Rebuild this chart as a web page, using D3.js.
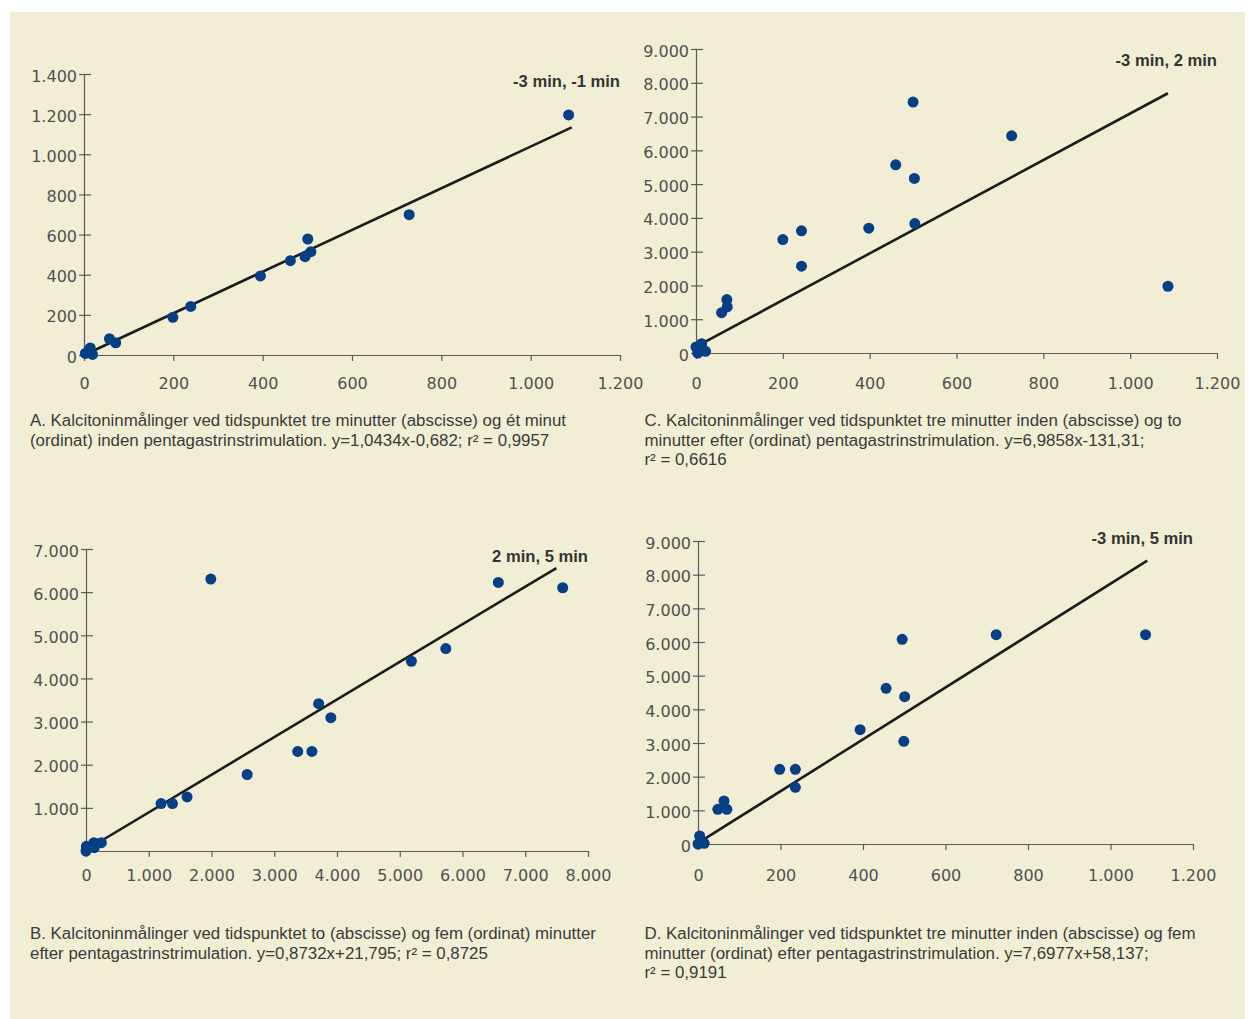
<!DOCTYPE html>
<html>
<head>
<meta charset="utf-8">
<script src="https://cdn.jsdelivr.net/npm/d3@7"></script>
<style>
  html, body { margin: 0; padding: 0; background: #ffffff; }
  svg { display: block; }
</style>
</head>
<body>
<svg id="chart" width="1253" height="1019"></svg>
<script>
// ---------------- DATA ----------------
// Panel A: -3 min (x) vs -1 min (y)
const titleA = "-3 min, -1 min";
const xTicksA = [0, 200, 400, 600, 800, 1000, 1200];
const yTicksA = [0, 200, 400, 600, 800, 1000, 1200, 1400];
const xA = [3, 10, 14, 19, 57, 71, 199, 239, 395, 462, 495, 508, 501, 728, 1085];
const yA = [8, 20, 35, 3, 81, 61, 188, 242, 394, 470, 490, 515, 578, 699, 1196];
const trendXA = [10, 1092];
const trendYA = [10, 1134];
const captionA = [
  "A. Kalcitoninmålinger ved tidspunktet tre minutter (abscisse) og ét minut",
  "(ordinat) inden pentagastrinstrimulation. y=1,0434x-0,682; r² = 0,9957"
];

// Panel C: -3 min (x) vs 2 min (y)
const titleC = "-3 min, 2 min";
const xTicksC = [0, 200, 400, 600, 800, 1000, 1200];
const yTicksC = [0, 1000, 2000, 3000, 4000, 5000, 6000, 7000, 8000, 9000];
const xC = [4, 0, 13, 22, 10, 59, 71, 72, 200, 243, 243, 398, 460, 500, 503, 504, 727, 1087];
const yC = [0, 178, 277, 49, 150, 1195, 1581, 1363, 3359, 3616, 2569, 3695, 5572, 7429, 5167, 3833, 6431, 1976];
const trendXC = [12, 1087];
const trendYC = [270, 7690];
const captionC = [
  "C. Kalcitoninmålinger ved tidspunktet tre minutter inden (abscisse) og to",
  "minutter efter (ordinat) pentagastrinstrimulation. y=6,9858x-131,31;",
  "r² = 0,6616"
];

// Panel B: 2 min (x) vs 5 min (y)
const titleB = "2 min, 5 min";
const xTicksB = [0, 1000, 2000, 3000, 4000, 5000, 6000, 7000, 8000];
const yTicksB = [1000, 2000, 3000, 4000, 5000, 6000, 7000];
const xB = [0, 6, 126, 132, 245, 1196, 1378, 1611, 1989, 2568, 3374, 3600, 3707, 3902, 5186, 5734, 6571, 7597];
const yB = [0, 108, 194, 77, 194, 1100, 1100, 1254, 6303, 1773, 2308, 2308, 3415, 3090, 4398, 4693, 6226, 6102];
const trendXB = [100, 7496];
const trendYB = [110, 6559];
const captionB = [
  "B. Kalcitoninmålinger ved tidspunktet to (abscisse) og fem (ordinat) minutter",
  "efter pentagastrinstrimulation. y=0,8732x+21,795; r² = 0,8725"
];

// Panel D: -3 min (x) vs 5 min (y)
const titleD = "-3 min, 5 min";
const xTicksD = [0, 200, 400, 600, 800, 1000, 1200];
const yTicksD = [0, 1000, 2000, 3000, 4000, 5000, 6000, 7000, 8000, 9000];
const xD = [0, 4, 15, 48, 63, 70, 198, 236, 236, 393, 456, 495, 501, 499, 723, 1085];
const yD = [0, 238, 20, 1030, 1277, 1030, 2218, 2218, 1683, 3396, 4624, 6079, 4376, 3050, 6218, 6218];
const trendXD = [16, 1089];
const trendYD = [150, 8416];
const captionD = [
  "D. Kalcitoninmålinger ved tidspunktet tre minutter inden (abscisse) og fem",
  "minutter (ordinat) efter pentagastrinstrimulation. y=7,6977x+58,137;",
  "r² = 0,9191"
];

// ---------------- LAYOUT ----------------
const panels = [
  { title: titleA, xT: xTicksA, yT: yTicksA, xs: xA, ys: yA, tx: trendXA, ty: trendYA, cap: captionA,
    left: 84, right: 620, top: 74, bottom: 355, xMax: 1200, yMax: 1400, xLabBase: 389, titleBase: 87,
    capX: 30, capY: 426 },
  { title: titleC, xT: xTicksC, yT: yTicksC, xs: xC, ys: yC, tx: trendXC, ty: trendYC, cap: captionC,
    left: 696, right: 1217, top: 49, bottom: 353, xMax: 1200, yMax: 9000, xLabBase: 389, titleBase: 66,
    capX: 644.5, capY: 426 },
  { title: titleB, xT: xTicksB, yT: yTicksB, xs: xB, ys: yB, tx: trendXB, ty: trendYB, cap: captionB,
    left: 86, right: 588, top: 549, bottom: 851, xMax: 8000, yMax: 7000, xLabBase: 881, titleBase: 562,
    capX: 30, capY: 939 },
  { title: titleD, xT: xTicksD, yT: yTicksD, xs: xD, ys: yD, tx: trendXD, ty: trendYD, cap: captionD,
    left: 698, right: 1193, top: 541, bottom: 844, xMax: 1200, yMax: 9000, xLabBase: 881, titleBase: 544,
    capX: 644.5, capY: 939 }
];

const svg = d3.select("#chart");
svg.append("rect").attr("x", 10).attr("y", 12).attr("width", 1235).attr("height", 1007).attr("fill", "#f2eed6");

const loc = d3.formatLocale({ decimal: ",", thousands: ".", grouping: [3], currency: ["", ""] });
const fmt = loc.format(",d");

const axisColor = "#5a5a5a";
const labelColor = "#505050";
const tickFont = "'DejaVu Sans', sans-serif";
const textFont = "'Liberation Sans', Arial, sans-serif";

panels.forEach(p => {
  const x = d3.scaleLinear().domain([0, p.xMax]).range([p.left, p.right]);
  const y = d3.scaleLinear().domain([0, p.yMax]).range([p.bottom, p.top]);
  const g = svg.append("g");

  // y axis
  const gy = g.append("g").attr("transform", `translate(${p.left},0)`)
    .call(d3.axisLeft(y).tickValues(p.yT).tickFormat(fmt).tickSizeInner(5).tickSizeOuter(0).tickPadding(2));
  gy.select(".domain").attr("stroke", axisColor).attr("stroke-width", 1.2);
  gy.selectAll(".tick line").attr("stroke", axisColor).attr("stroke-width", 1.2).attr("x1", 7);
  gy.selectAll(".tick text").attr("fill", labelColor).attr("font-family", tickFont).attr("font-size", 16)
    .attr("dy", null).attr("y", 7);

  // x axis
  const gx = g.append("g").attr("transform", `translate(0,${p.bottom})`)
    .call(d3.axisBottom(x).tickValues(p.xT).tickFormat(fmt).tickSizeInner(6).tickSizeOuter(0));
  gx.select(".domain").attr("stroke", axisColor).attr("stroke-width", 1.2);
  gx.selectAll(".tick line").attr("stroke", axisColor).attr("stroke-width", 1.2);
  gx.selectAll(".tick text").attr("fill", labelColor).attr("font-family", tickFont).attr("font-size", 16)
    .attr("dy", null).attr("y", p.xLabBase - p.bottom);

  // trend line
  g.append("line")
    .attr("x1", x(p.tx[0])).attr("y1", y(p.ty[0]))
    .attr("x2", x(p.tx[1])).attr("y2", y(p.ty[1]))
    .attr("stroke", "#1c1c1c").attr("stroke-width", 2.6);

  // points
  g.append("g").selectAll("circle").data(p.xs.map((v, i) => [v, p.ys[i]])).join("circle")
    .attr("cx", d => x(d[0])).attr("cy", d => y(d[1])).attr("r", 5.5).attr("fill", "#053f85");

  // title
  g.append("text").attr("x", p.right).attr("y", p.titleBase).attr("text-anchor", "end")
    .attr("font-family", textFont).attr("font-weight", "bold").attr("font-size", 16.6)
    .attr("fill", "#333").text(p.title);
});

// captions
const capNodes = [];
panels.forEach(p => {
  p.cap.forEach((line, i) => {
    const t = svg.append("text").attr("x", p.capX).attr("y", p.capY + i * 19.5)
      .attr("font-family", textFont).attr("font-size", 16).attr("fill", "#3a3a3a").text(line);
    capNodes.push(t);
  });
});
const refW = capNodes[0].node().getComputedTextLength();
const k = 536 / refW;
capNodes.forEach(t => {
  const w = t.node().getComputedTextLength();
  t.attr("textLength", w * k).attr("lengthAdjust", "spacingAndGlyphs");
});
</script>
</body>
</html>
